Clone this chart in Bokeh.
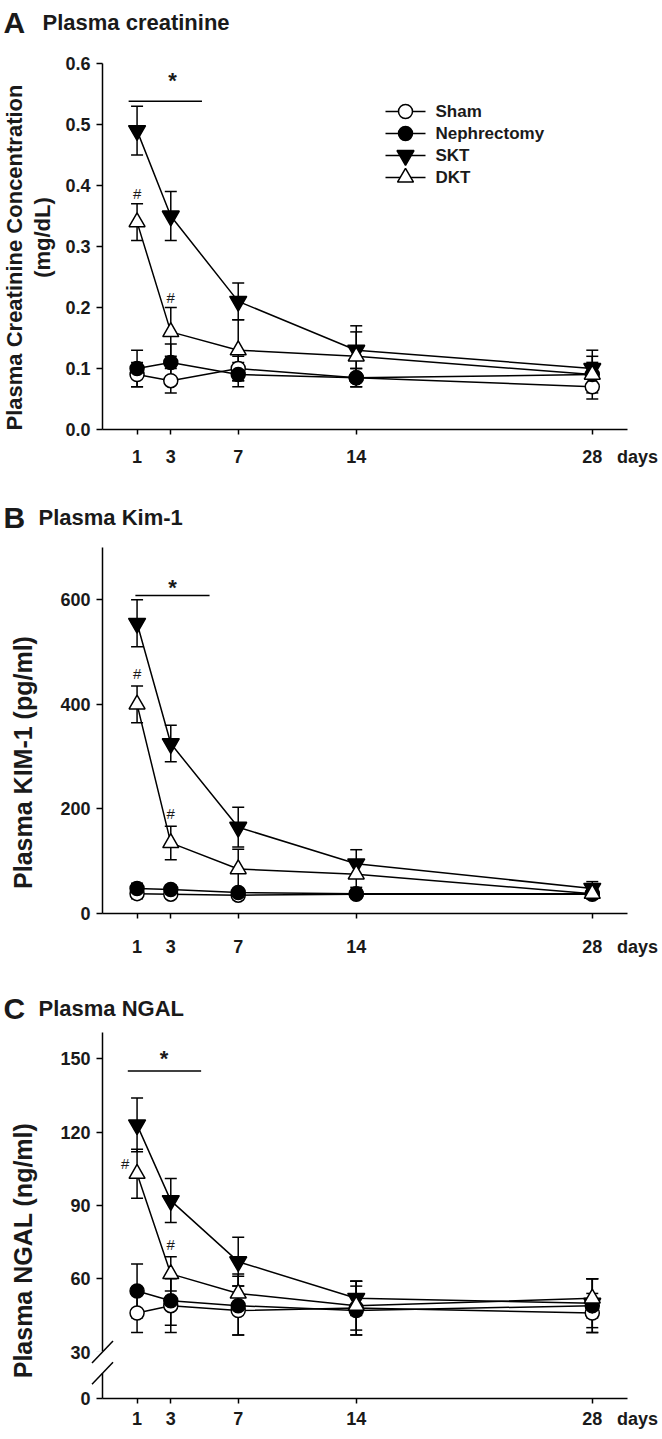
import math
from bokeh.plotting import figure
from bokeh.layouts import column
from bokeh.models import (ColumnDataSource, Whisker, TeeHead, Label, LinearAxis,
                          FixedTicker, Range1d, NumeralTickFormatter, Arrow)
from bokeh.embed import file_html
from bokeh.resources import INLINE
from bokeh.core.properties import value

FONT = "Liberation Sans"
INK = "#1a1a1a"

# ---------------- data ----------------
days = [1, 3, 7, 14, 28]
x_ticks = [1, 3, 7, 14, 28]
group_names = ["Sham", "Nephrectomy", "SKT", "DKT"]

# Panel A: plasma creatinine (mg/dL)
creat_sham = [0.09, 0.08, 0.10, 0.085, 0.07]
creat_sham_err = [0.02, 0.02, 0.02, 0.015, 0.02]
creat_neph = [0.10, 0.11, 0.09, 0.085, 0.09]
creat_neph_err = [0.03, 0.03, 0.02, 0.015, 0.02]
creat_skt = [0.49, 0.35, 0.21, 0.13, 0.10]
creat_skt_err = [0.04, 0.04, 0.03, 0.04, 0.03]
creat_dkt = [0.34, 0.16, 0.13, 0.12, 0.09]
creat_dkt_err = [0.03, 0.04, 0.05, 0.04, 0.03]
creat_yticks = [0.0, 0.1, 0.2, 0.3, 0.4, 0.5, 0.6]
creat_hash_x = [1, 3]
creat_hash_y = [0.387, 0.216]
creat_star = (3.1, 0.572)
creat_bar = (0.5, 4.85, 0.538)

# Panel B: plasma KIM-1 (pg/ml)
kim_sham = [38, 37, 35, 37, 37]
kim_sham_err = [10, 8, 8, 8, 8]
kim_neph = [48, 46, 40, 38, 38]
kim_neph_err = [10, 8, 8, 8, 8]
kim_skt = [555, 325, 165, 95, 48]
kim_skt_err = [45, 35, 38, 27, 13]
kim_dkt = [400, 135, 85, 75, 38]
kim_dkt_err = [35, 32, 38, 25, 10]
kim_yticks = [0, 200, 400, 600]
kim_hash_x = [1, 3]
kim_hash_y = [459, 191]
kim_star = (3.1, 624)
kim_bar = (0.9, 5.3, 608)

# Panel C: plasma NGAL (ng/ml)  (axis broken between 0 and 30)
ngal_sham = [46, 49, 47, 48, 46]
ngal_sham_err = [8, 11, 10, 11, 8]
ngal_neph = [55, 51, 49, 47, 49]
ngal_neph_err = [11, 10, 12, 10, 11]
ngal_skt = [123, 92, 67, 52, 50]
ngal_skt_err = [11, 9, 10, 7, 10]
ngal_dkt = [103, 62, 54, 49, 52]
ngal_dkt_err = [10, 7, 8, 10, 8]
ngal_yticks = [30, 60, 90, 120, 150]
ngal_zero_pos = 11          # where the "0" of the broken axis sits
ngal_hash_x = [0.3, 3]
ngal_hash_y = [107, 74]
ngal_star = (2.6, 150)
ngal_bar = (0.45, 4.8, 145)

STYLES = {
    "Sham": dict(marker="circle", fill_color="white", size=14),
    "Nephrectomy": dict(marker="circle", fill_color="black", size=14),
    "SKT": dict(marker="inverted_triangle", fill_color="black", size=17),
    "DKT": dict(marker="triangle", fill_color="white", size=16),
}

# ---------------- layout helpers (page pixels -> data units) ----------------
W = 660
PPD = 16.86            # pixels per day
AXIS_X = -1.05         # x value where the y axis sits
AXIS_PX = 102          # page x of the y axis
X_END = 30.06
XS = AXIS_X - AXIS_PX / PPD
XE = XS + W / PPD


def X(px):
    return XS + px / PPD


def make_panel(top, height, y0, y1, py_bottom, py_top, yticks, x_standoff,
               series, errors, letter, title, title_py, title_px, ylabels,
               hash_x, hash_y, star, bar, tick_center_py, legend=False):
    ppu = (py_bottom - py_top) / (y1 - y0)
    ys = y0 - (top + height - py_bottom) / ppu
    ye = y1 + (py_top - top) / ppu

    def Y(py):
        return ys + (top + height - py) / ppu

    p = figure(width=W, height=height, output_backend="svg", toolbar_location=None,
               x_range=Range1d(XS, XE), y_range=Range1d(ys, ye),
               x_axis_type=None, y_axis_type=None, min_border=0)
    p.outline_line_color = None

    xaxis = LinearAxis(fixed_location=y0, bounds=(AXIS_X, X_END),
                       ticker=FixedTicker(ticks=x_ticks))
    yaxis = LinearAxis(fixed_location=AXIS_X, bounds=(y0, y1),
                       ticker=FixedTicker(ticks=yticks))
    for ax in (xaxis, yaxis):
        ax.axis_line_width = 1.5
        ax.axis_line_color = "black"
        ax.major_tick_line_width = 1.5
        ax.major_tick_line_color = "black"
        ax.major_tick_in = 0
        ax.minor_tick_line_color = None
        ax.major_label_text_font = FONT
        ax.major_label_text_font_style = "bold"
        ax.major_label_text_font_size = "18px"
        ax.major_label_text_color = INK
    xaxis.major_tick_out = 5
    yaxis.major_tick_out = 6
    xaxis.major_label_standoff = x_standoff
    yaxis.major_label_standoff = 6
    p.add_layout(xaxis, "below")
    p.add_layout(yaxis, "left")

    srcs = []
    for name, vals, errs in zip(group_names, series, errors):
        src = ColumnDataSource(dict(x=days, y=vals,
                                    lo=[v - e for v, e in zip(vals, errs)],
                                    hi=[v + e for v, e in zip(vals, errs)]))
        w = Whisker(base="x", upper="hi", lower="lo", source=src, level="underlay",
                    line_width=1.5, line_color="black",
                    upper_head=TeeHead(size=12, line_width=1.5, line_color="black"),
                    lower_head=TeeHead(size=12, line_width=1.5, line_color="black"))
        p.add_layout(w)
        p.line("x", "y", source=src, line_width=1.5, line_color="black")
        srcs.append((name, src))
    for name, src in srcs:
        st = STYLES[name]
        p.scatter("x", "y", source=src, marker=st["marker"], size=st["size"],
                  fill_color=st["fill_color"], line_color="black", line_width=1.5)

    # significance marks
    p.text(x=hash_x, y=hash_y, text=["#"] * len(hash_x), text_font=value(FONT),
           text_font_size="15px", text_align="center", text_baseline="middle",
           text_color=INK)
    p.segment(x0=[bar[0]], y0=[bar[2]], x1=[bar[1]], y1=[bar[2]],
              line_width=1.5, line_color="black")
    p.text(x=[star[0]], y=[star[1]], text=["*"], text_font=value(FONT),
           text_font_size="22px", text_font_style="bold", text_align="center",
           text_baseline="middle", text_color=INK)

    # panel letter and title
    p.add_layout(Label(x=X(3), y=Y(title_py), text=letter,
                       text_font=FONT, text_font_style="bold", text_font_size="30px",
                       text_align="left", text_baseline="middle", text_color=INK))
    p.add_layout(Label(x=X(title_px), y=Y(title_py), text=title,
                       text_font=FONT, text_font_style="bold", text_font_size="22px",
                       text_align="left", text_baseline="middle", text_color=INK))
    # rotated y-axis label(s)
    for (txt, px, py, fs) in ylabels:
        p.add_layout(Label(x=X(px), y=Y(py), text=txt, angle=math.pi / 2,
                           text_font=FONT, text_font_style="bold", text_font_size=fs,
                           text_align="center", text_baseline="middle", text_color=INK))
    # "days" unit next to the last x tick
    p.add_layout(Label(x=X(637), y=Y(tick_center_py), text="days",
                       text_font=FONT, text_font_style="bold", text_font_size="18px",
                       text_align="center", text_baseline="middle", text_color=INK))

    if legend:
        for i, name in enumerate(group_names):
            yy = Y(111 + 22 * i)
            st = STYLES[name]
            p.segment(x0=[X(385)], x1=[X(425)], y0=[yy], y1=[yy],
                      line_width=1.5, line_color="black")
            p.scatter(x=[X(405)], y=[yy], marker=st["marker"], size=st["size"],
                      fill_color=st["fill_color"], line_color="black", line_width=1.5)
            p.add_layout(Label(x=X(435), y=yy, text=name, text_font=FONT,
                               text_font_style="bold", text_font_size="17px",
                               text_align="left", text_baseline="middle", text_color=INK))
    return p, xaxis, yaxis, Y


pA, axA, ayA, YA = make_panel(0, 480, 0.0, 0.6, 429, 63, creat_yticks, 15,
                              [creat_sham, creat_neph, creat_skt, creat_dkt],
                              [creat_sham_err, creat_neph_err, creat_skt_err, creat_dkt_err],
                              "A", "Plasma creatinine", 22, 42,
                              [("Plasma Creatinine Concentration", 14, 257, "22px"),
                               ("(mg/dL)", 42, 237, "22px")],
                              creat_hash_x, creat_hash_y, creat_star, creat_bar, 456,
                              legend=True)
ayA.formatter = NumeralTickFormatter(format="0.0")

pB, axB, ayB, YB = make_panel(480, 480, 0, 700, 913, 547, kim_yticks, 21,
                              [kim_sham, kim_neph, kim_skt, kim_dkt],
                              [kim_sham_err, kim_neph_err, kim_skt_err, kim_dkt_err],
                              "B", "Plasma Kim-1", 517, 38,
                              [("Plasma KIM-1 (pg/ml)", 22, 762, "25px")],
                              kim_hash_x, kim_hash_y, kim_star, kim_bar, 946)

pC, axC, ayC, YC = make_panel(960, 476, ngal_zero_pos, 160.8, 1398, 1032,
                              [ngal_zero_pos] + ngal_yticks, 8,
                              [ngal_sham, ngal_neph, ngal_skt, ngal_dkt],
                              [ngal_sham_err, ngal_neph_err, ngal_skt_err, ngal_dkt_err],
                              "C", "Plasma NGAL", 1008, 38,
                              [("Plasma NGAL (ng/ml)", 22, 1250, "25px")],
                              ngal_hash_x, ngal_hash_y, ngal_star, ngal_bar, 1418)
ayC.major_label_overrides = {ngal_zero_pos: "0"}

# axis break marks on the NGAL y axis
pC.add_layout(Arrow(x_start=X(93), y_start=25.8, x_end=X(103.5), y_end=25.8, end=None,
                    line_color="white", line_width=22))
for yc in (30.0, 21.3):
    pC.add_layout(Arrow(x_start=X(91.5), y_start=yc - 4.5, x_end=X(112.5), y_end=yc + 4.5,
                        end=None, line_color="black", line_width=1.5))

layout = column(pA, pB, pC)
open("out.html", "w").write(file_html(layout, INLINE))
